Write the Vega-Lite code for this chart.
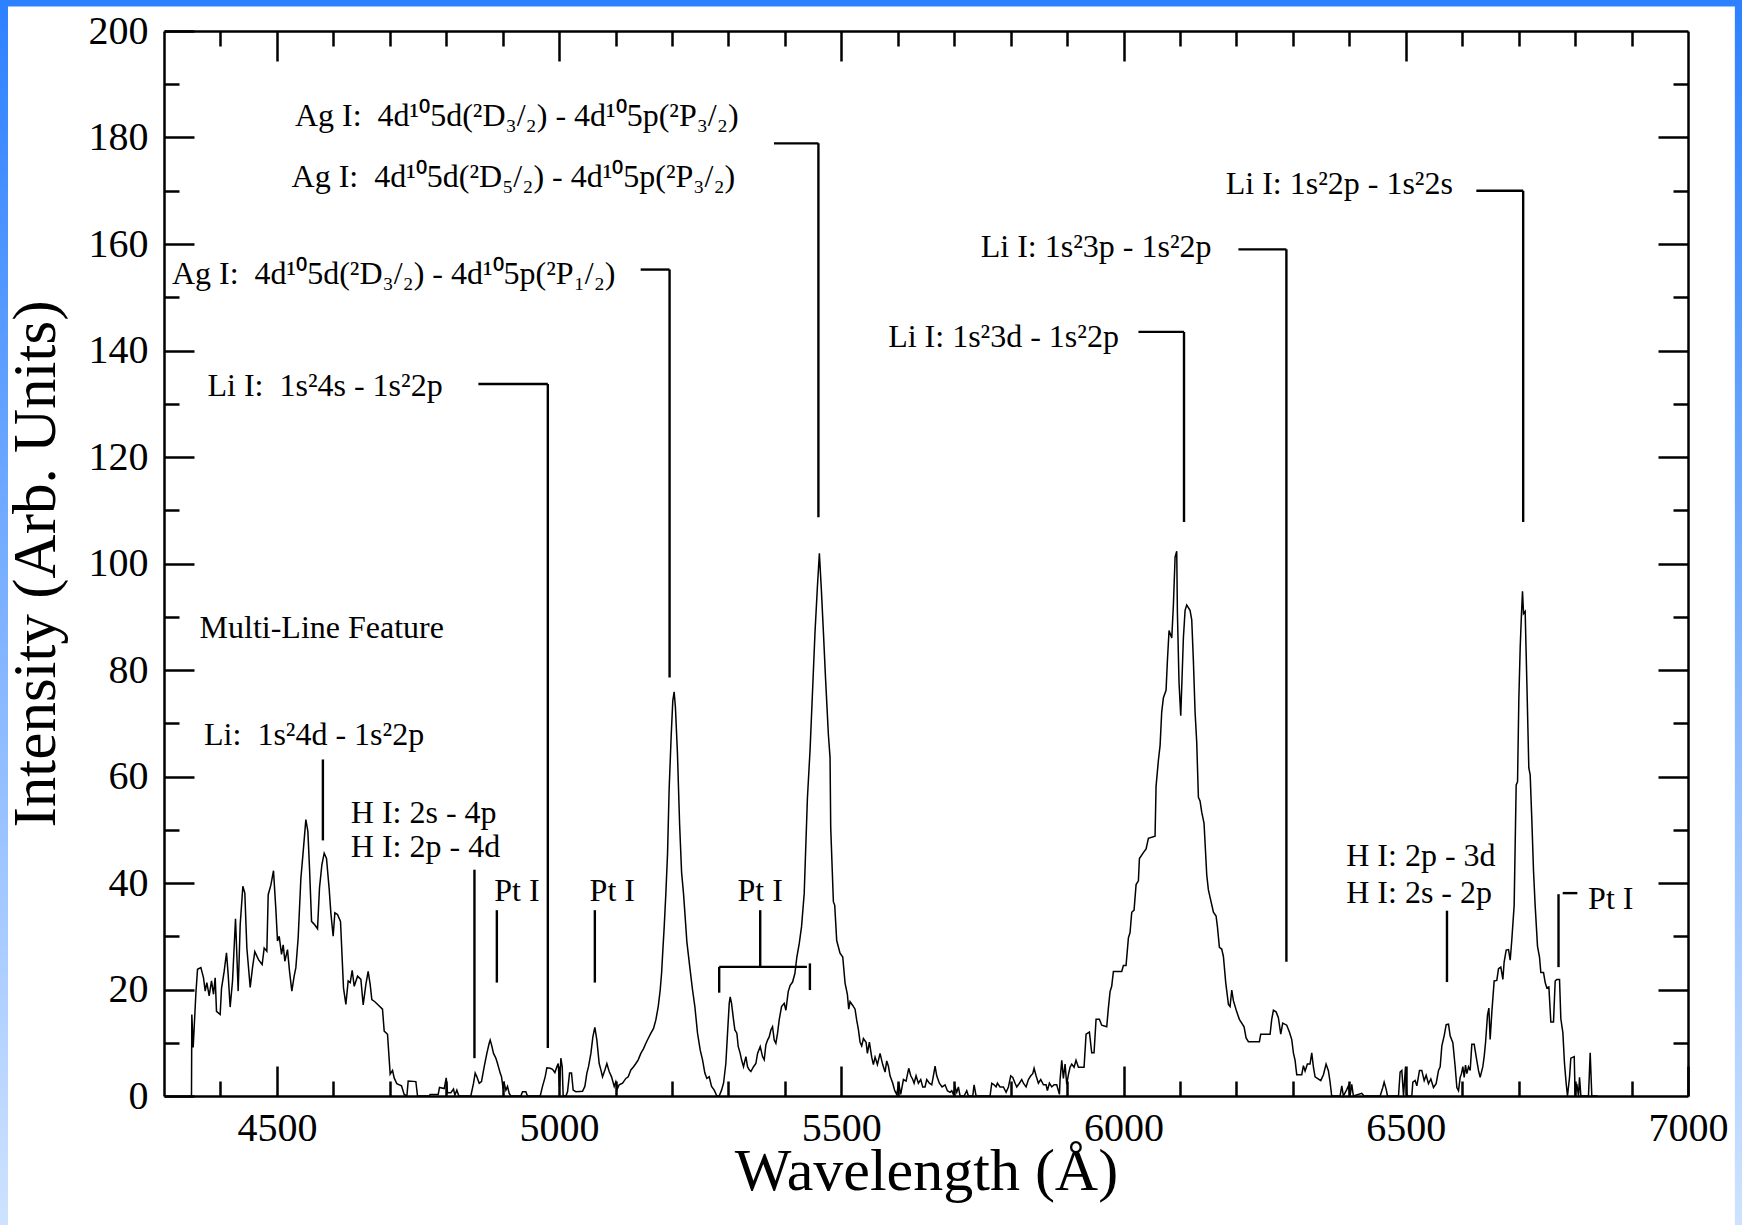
{
  "$schema": "https://vega.github.io/schema/vega-lite/v6.json",
  "width": 1524,
  "height": 1065,
  "autosize": {"type": "none"},
  "padding": {"left": 164, "top": 31, "right": 54, "bottom": 129},
  "background": "white",
  "config": {
    "view": {"stroke": null},
    "font": "Liberation Serif"
  },
  "datasets": {
    "spectrum": [
      {"w":4348.7,"i":0},{"w":4349.3,"i":15.3},{"w":4351.7,"i":9.1},{"w":4356.4,"i":19.1},{"w":4359.4,"i":23.8},{"w":4365.3,"i":24.1},{"w":4370,"i":22.2},{"w":4373,"i":19.7},{"w":4375.9,"i":21.3},{"w":4380,"i":18.8},{"w":4384.2,"i":21.6},{"w":4387.7,"i":19.1},{"w":4390.7,"i":22.2},{"w":4393,"i":15.9},{"w":4399.5,"i":15.3},{"w":4401.9,"i":20.2},{"w":4406.6,"i":23.4},{"w":4410.7,"i":26.9},{"w":4413.7,"i":22.8},{"w":4417.2,"i":16.7},{"w":4421.4,"i":21.6},{"w":4426.7,"i":33.3},{"w":4431.4,"i":19.7},{"w":4435,"i":32.2},{"w":4439.7,"i":39.4},{"w":4443.2,"i":38.1},{"w":4446.8,"i":27.8},{"w":4452.7,"i":20.4},{"w":4456.8,"i":24.1},{"w":4460.9,"i":27.1},{"w":4467.4,"i":25.6},{"w":4473.9,"i":24.7},{"w":4477.5,"i":27.8},{"w":4482.2,"i":27.2},{"w":4484.6,"i":37.8},{"w":4489.3,"i":39.6},{"w":4494,"i":42.3},{"w":4498.2,"i":35},{"w":4501.1,"i":29.1},{"w":4504.1,"i":30},{"w":4508.2,"i":26.6},{"w":4511.2,"i":28.4},{"w":4514.1,"i":25.3},{"w":4518.8,"i":27.5},{"w":4522.4,"i":23.4},{"w":4526.5,"i":19.7},{"w":4530.6,"i":22.5},{"w":4533.6,"i":24.1},{"w":4537.7,"i":29.7},{"w":4542.5,"i":40.9},{"w":4546.6,"i":45.9},{"w":4551.3,"i":51.9},{"w":4554.9,"i":49.7},{"w":4557.8,"i":42.8},{"w":4561.4,"i":32.8},{"w":4567.3,"i":32.1},{"w":4572,"i":31.4},{"w":4575.5,"i":39.1},{"w":4579.7,"i":43.4},{"w":4583.8,"i":45.6},{"w":4587.9,"i":44.6},{"w":4592.7,"i":38.8},{"w":4595.6,"i":34.4},{"w":4599.7,"i":30},{"w":4602.7,"i":34.4},{"w":4607.4,"i":34.1},{"w":4612.7,"i":32.8},{"w":4618,"i":20.3},{"w":4622.2,"i":17.2},{"w":4626.3,"i":21.6},{"w":4629.9,"i":21.3},{"w":4633.4,"i":23.6},{"w":4637,"i":20.6},{"w":4642.9,"i":22.5},{"w":4648.8,"i":21.9},{"w":4652.9,"i":17.1},{"w":4657.6,"i":20.9},{"w":4661.7,"i":23.4},{"w":4665.3,"i":20.9},{"w":4668.2,"i":18.1},{"w":4673.6,"i":17.7},{"w":4679.5,"i":17.1},{"w":4687.1,"i":16.3},{"w":4690.1,"i":12.2},{"w":4696,"i":11.6},{"w":4700.7,"i":4.1},{"w":4704.9,"i":4.8},{"w":4707.8,"i":3.4},{"w":4712.5,"i":2.3},{"w":4720.8,"i":1.9},{"w":4725.5,"i":0.3},{"w":4730.3,"i":0},{"w":4732.6,"i":2.8},{"w":4746.2,"i":2.7},{"w":4749.2,"i":0},{"w":4769.8,"i":0},{"w":4771.6,"i":0.3},{"w":4785.8,"i":0.3},{"w":4788.1,"i":1.6},{"w":4796.4,"i":1.4},{"w":4800,"i":3.4},{"w":4802.3,"i":0.6},{"w":4808.2,"i":0.6},
      {"w":4812.9,"i":1.3},{"w":4815.3,"i":0.2},{"w":4818.8,"i":1.1},{"w":4822.4,"i":0},{"w":4843.6,"i":0},{"w":4848.4,"i":2.4},{"w":4851.3,"i":4.3},{"w":4854.3,"i":3.6},{"w":4858.4,"i":2.4},{"w":4862.5,"i":2.7},{"w":4867.3,"i":5.5},{"w":4872,"i":8},{"w":4876.1,"i":9.9},{"w":4877.9,"i":10.5},{"w":4880.3,"i":9.6},{"w":4883.8,"i":8},{"w":4888,"i":7.1},{"w":4890.9,"i":6.1},{"w":4895.6,"i":4.3},{"w":4898,"i":3.6},{"w":4900.3,"i":1.8},{"w":4902.7,"i":2.4},{"w":4905.7,"i":1.1},{"w":4908.6,"i":1.8},{"w":4911.6,"i":0.5},{"w":4914.5,"i":0},{"w":4932.2,"i":0},{"w":4935.2,"i":0.8},{"w":4941.1,"i":0.8},{"w":4944,"i":0},{"w":4966.5,"i":0},{"w":4970.6,"i":1.8},{"w":4975.3,"i":3.6},{"w":4978.3,"i":5.3},{"w":4984.2,"i":5.2},{"w":4988.3,"i":5},{"w":4992.5,"i":4.4},{"w":4996,"i":5.5},{"w":4998.4,"i":6.1},{"w":5000.7,"i":1.8},{"w":5003.1,"i":7.1},{"w":5005.5,"i":5.5},{"w":5007.2,"i":0},{"w":5012,"i":0},{"w":5014.9,"i":0.8},{"w":5018.5,"i":4.3},{"w":5022,"i":4.3},{"w":5024.9,"i":1.1},{"w":5029.7,"i":0.8},{"w":5041.5,"i":0.9},{"w":5045.6,"i":1.8},{"w":5049.2,"i":4.3},{"w":5052.1,"i":5.5},{"w":5056.3,"i":8},{"w":5059.8,"i":11.1},{"w":5063.3,"i":12.9},{"w":5066.9,"i":10.5},{"w":5071,"i":6.1},{"w":5074,"i":4.9},{"w":5076.9,"i":3.6},{"w":5081.1,"i":4.9},{"w":5084.6,"i":6.1},{"w":5088.7,"i":4.6},{"w":5092.9,"i":3.6},{"w":5097.6,"i":1.8},{"w":5100.5,"i":2.7},{"w":5103.5,"i":1.4},{"w":5106.4,"i":2.1},{"w":5112.4,"i":2.4},{"w":5118.3,"i":3.3},{"w":5122.4,"i":3.6},{"w":5127.1,"i":4.9},{"w":5131.9,"i":5.5},{"w":5136,"i":6.1},{"w":5140.1,"i":6.8},{"w":5144.8,"i":8},{"w":5149.6,"i":8.9},{"w":5153.7,"i":9.9},{"w":5157.8,"i":10.8},{"w":5162.6,"i":11.8},{"w":5167.3,"i":12.7},{"w":5171.4,"i":14.3},{"w":5175.6,"i":16.8},{"w":5179.1,"i":19.9},{"w":5181.5,"i":23},{"w":5183.8,"i":27.4},{"w":5186.2,"i":31.8},{"w":5189.1,"i":38},{"w":5192.1,"i":45.5},{"w":5194.9,"i":57.5},{"w":5198.5,"i":67.5},{"w":5201.4,"i":74.2},{"w":5203.8,"i":75.9},{"w":5206.1,"i":72.9},{"w":5209.7,"i":64.2},{"w":5213.5,"i":51},{"w":5217,"i":42},{"w":5220.4,"i":38},{"w":5223.4,"i":33.5},{"w":5226.3,"i":29},{"w":5228.7,"i":26.8},{"w":5232.2,"i":23.6},{"w":5236.4,"i":19.9},{"w":5240.5,"i":16.8},{"w":5245.2,"i":11.8},{"w":5250,"i":8.6},{"w":5254.1,"i":6.8},{"w":5258.2,"i":4.3},{"w":5261.8,"i":3.3},{"w":5265.9,"i":3.6},{"w":5270.1,"i":1.8},{"w":5274.8,"i":1.1},{"w":5279.5,"i":0},{"w":5283.6,"i":0},{"w":5287.8,"i":1.1},{"w":5291.3,"i":2.4},{"w":5295.4,"i":6.1},{"w":5298.4,"i":11.8},{"w":5301.4,"i":17.4},{"w":5303.1,"i":18.6},{"w":5305.5,"i":17.4},{"w":5309,"i":14.3},{"w":5311.4,"i":12.4},{"w":5314.9,"i":11.8},{"w":5317.3,"i":9.3},{"w":5320.8,"i":8},{"w":5323.2,"i":6.8},{"w":5326.7,"i":5.5},{"w":5330.9,"i":7.4},{"w":5333.8,"i":5.5},{"w":5336.8,"i":4.9},{"w":5339.7,"i":4.6},{"w":5344.5,"i":5.5},{"w":5348.6,"i":6.1},{"w":5351.6,"i":8},{"w":5356.3,"i":9.3},{"w":5360.4,"i":7.4},{"w":5363.4,"i":6.8},{"w":5366.3,"i":9.6},{"w":5369.3,"i":10.5},{"w":5372.2,"i":11.1},{"w":5375.2,"i":12.4},{"w":5378.1,"i":13},{"w":5381.1,"i":10.5},{"w":5384,"i":9.9},{"w":5387,"i":11.8},{"w":5389.9,"i":14.3},{"w":5394.1,"i":16.8},{"w":5398.8,"i":17.4},{"w":5401.8,"i":16.1},{"w":5405.9,"i":19.6},{"w":5409.4,"i":20.8},{"w":5413.6,"i":21.4},{"w":5417.7,"i":23},{"w":5421.2,"i":26.1},{"w":5425.4,"i":28.6},{"w":5429.5,"i":31.8},{"w":5434.2,"i":38},{"w":5439.9,"i":55.9},{"w":5444.6,"i":65},{"w":5449.3,"i":76.8},{"w":5453.4,"i":87.2},{"w":5457.6,"i":95.6},{"w":5461.1,"i":101.9},{"w":5464.7,"i":94.9},{"w":5468.2,"i":87.2},{"w":5471.8,"i":78.9},{"w":5477.1,"i":67.8},{"w":5480,"i":63.6},{"w":5481.2,"i":50.4},{"w":5485.9,"i":36.5},{"w":5488.3,"i":35.8},{"w":5491.8,"i":29.2},{"w":5497.7,"i":26.8},{"w":5502.5,"i":26.1},{"w":5506.6,"i":21.2},{"w":5510.7,"i":19.1},{"w":5513.1,"i":16.3},{"w":5515.5,"i":17.7},{"w":5520.2,"i":17},{"w":5524.3,"i":16.3},{"w":5527.3,"i":14.2},{"w":5530.2,"i":12.5},{"w":5533.2,"i":10.1},{"w":5536.1,"i":9.4},{"w":5539.1,"i":10.8},{"w":5543.8,"i":10.1},{"w":5546.2,"i":8},{"w":5549.7,"i":10.1},{"w":5553.8,"i":7.3},{"w":5556.8,"i":5.9},{"w":5559.8,"i":7.3},{"w":5563.9,"i":5.9},{"w":5568.6,"i":8},{"w":5573.3,"i":5.9},{"w":5577.5,"i":4.5},{"w":5580.4,"i":6.6},{"w":5583.4,"i":5.6},{"w":5586.3,"i":3.8},{"w":5591.1,"i":2.4},{"w":5594.6,"i":1},{"w":5598.1,"i":0.3},{"w":5601.7,"i":2.4},{"w":5605.2,"i":0.3},{"w":5610,"i":3.1},{"w":5614.7,"i":2.8},{"w":5619.4,"i":5.2},{"w":5623,"i":3.8},{"w":5626.5,"i":3.1},{"w":5628.9,"i":2.4},{"w":5632.4,"i":3.8},{"w":5636.5,"i":2.4},{"w":5640.7,"i":3.1},{"w":5644.2,"i":1.7},{"w":5648.3,"i":1.7},{"w":5651.3,"i":3.1},{"w":5656,"i":2.4},{"w":5660.2,"i":2.1},{"w":5663.1,"i":3.8},{"w":5666.1,"i":5.6},{"w":5669,"i":3.8},{"w":5673.7,"i":2.4},{"w":5678.5,"i":1.7},{"w":5683.8,"i":2.1},{"w":5687.9,"i":1},{"w":5692.6,"i":0.7},{"w":5695.6,"i":1},{"w":5698.5,"i":0.3},{"w":5701.5,"i":1.7},{"w":5704.5,"i":0.7},{"w":5707.4,"i":1.7},{"w":5710.4,"i":0},{"w":5717.4,"i":0},{"w":5722.2,"i":1},{"w":5725.1,"i":0},{"w":5732.8,"i":0},{"w":5735.2,"i":2.1},{"w":5738.7,"i":0},{"w":5763.5,"i":0},{"w":5766.5,"i":2.4},{"w":5770.6,"i":2.1},{"w":5774.1,"i":1.7},{"w":5776.5,"i":2.4},{"w":5781.2,"i":1.7},{"w":5787.1,"i":1.7},{"w":5791.9,"i":0.7},{"w":5796,"i":1.7},{"w":5800.1,"i":3.8},{"w":5803.7,"i":3.5},{"w":5807.8,"i":2.4},{"w":5810.8,"i":1.7},{"w":5815.5,"i":2.4},{"w":5819.6,"i":3.1},{"w":5822.6,"i":2.4},{"w":5827.3,"i":1.7},{"w":5831.4,"i":3.1},{"w":5835.6,"i":3.8},{"w":5839.1,"i":4.2},{"w":5841.5,"i":5.2},{"w":5845,"i":3.8},{"w":5849.1,"i":2.4},{"w":5853.3,"i":3.1},{"w":5858,"i":2.1},{"w":5862.7,"i":2.1},{"w":5865.1,"i":1},{"w":5868.6,"i":2.4},{"w":5872.8,"i":1.7},{"w":5876.9,"i":2.1},{"w":5881.6,"i":2.1},{"w":5886.4,"i":0.3},
      {"w":5887.5,"i":3},{"w":5890.5,"i":6.7},{"w":5893.4,"i":3.3},{"w":5896.4,"i":6},{"w":5899.3,"i":2.2},{"w":5902.3,"i":4},{"w":5905.2,"i":5.4},{"w":5908.2,"i":6},{"w":5912.3,"i":5.4},{"w":5915.8,"i":6.7},{"w":5920,"i":5.4},{"w":5930,"i":5.4},{"w":5933.6,"i":11.6},{"w":5939.5,"i":12},{"w":5943.6,"i":8.1},{"w":5947.7,"i":8.1},{"w":5951.3,"i":14.4},{"w":5957.2,"i":14.4},{"w":5961.3,"i":13.3},{"w":5970.2,"i":13},{"w":5973.1,"i":16.5},{"w":5976.1,"i":19.6},{"w":5979,"i":20.6},{"w":5982,"i":23.4},{"w":5996.8,"i":23.4},{"w":5999.7,"i":24.5},{"w":6004.4,"i":24.5},{"w":6008.6,"i":29.7},{"w":6011.5,"i":30.7},{"w":6014.5,"i":34.5},{"w":6018.6,"i":34.9},{"w":6022.2,"i":39.7},{"w":6026.3,"i":40.4},{"w":6028.1,"i":44.6},{"w":6035.1,"i":45.7},{"w":6039.9,"i":46.4},{"w":6044,"i":48.4},{"w":6055.8,"i":48.8},{"w":6057.6,"i":58.2},{"w":6061.7,"i":63},{"w":6064.7,"i":65.8},{"w":6067.6,"i":72.1},{"w":6070.6,"i":74.8},{"w":6075.3,"i":76.2},{"w":6077.7,"i":81.8},{"w":6080.6,"i":87.4},{"w":6085.4,"i":86},{"w":6088.3,"i":92.2},{"w":6091.3,"i":101.2},{"w":6094.2,"i":102.3},{"w":6095.4,"i":90.8},{"w":6098.3,"i":77.6},{"w":6101.3,"i":71.4},{"w":6103.1,"i":76.9},{"w":6106,"i":86},{"w":6109,"i":91.2},{"w":6111.9,"i":92.2},{"w":6117.8,"i":91.2},{"w":6120.8,"i":89.4},{"w":6123.7,"i":81.8},{"w":6126.7,"i":72.1},{"w":6129.6,"i":66.5},{"w":6132.6,"i":56.1},{"w":6135.5,"i":55.4},{"w":6138.5,"i":53.3},{"w":6142.6,"i":51.2},{"w":6147.4,"i":41.5},{"w":6150.3,"i":38.7},{"w":6153.3,"i":37.3},{"w":6159.2,"i":34.5},{"w":6163.9,"i":33.8},{"w":6166.3,"i":31.8},{"w":6169.8,"i":27.9},{"w":6173.9,"i":27.6},{"w":6176.9,"i":26.2},{"w":6181,"i":21.3},{"w":6185.8,"i":17.2},{"w":6188.7,"i":16.8},{"w":6191.7,"i":19.9},{"w":6194.6,"i":17.9},{"w":6200.5,"i":15.8},{"w":6205.2,"i":14.4},{"w":6213.5,"i":13},{"w":6217.1,"i":10.9},{"w":6221.2,"i":10.2},{"w":6240.7,"i":10.2},{"w":6243,"i":11.6},{"w":6259.6,"i":11.6},{"w":6262.5,"i":14.4},{"w":6265.5,"i":16.1},{"w":6270.2,"i":15.8},{"w":6274.3,"i":14.7},{"w":6278.5,"i":11.6},{"w":6282,"i":13.7},{"w":6289.1,"i":13.3},{"w":6293.8,"i":12},{"w":6298,"i":10.6},{"w":6300.9,"i":8.1},{"w":6303.9,"i":6.7},{"w":6306.8,"i":4},{"w":6315.7,"i":4},{"w":6318.6,"i":5.7},{"w":6321.6,"i":4.7},{"w":6325.7,"i":6},{"w":6330.4,"i":6},{"w":6333.4,"i":8.1},{"w":6336.4,"i":5.4},{"w":6339.3,"i":3.6},{"w":6349.4,"i":2.9},{"w":6354.1,"i":4},{"w":6358.8,"i":6},{"w":6363,"i":4.7},{"w":6365.9,"i":2.6},{"w":6368.8,"i":0},{"w":6383.6,"i":0},{"w":6386.6,"i":1.9},{"w":6389.5,"i":0},{"w":6395.4,"i":1.2},{"w":6398.4,"i":1.9},{"w":6401.3,"i":0},{"w":6404.3,"i":2.2},{"w":6407.2,"i":0},{"w":6422,"i":0.5},{"w":6426.1,"i":0},
      {"w":6454.6,"i":0},{"w":6459.3,"i":1.6},{"w":6461.7,"i":2.6},{"w":6465.2,"i":1.3},{"w":6467.6,"i":0},{"w":6487.1,"i":0},{"w":6490,"i":4.5},{"w":6493,"i":4.8},{"w":6496,"i":0},{"w":6499.5,"i":5.5},{"w":6501.9,"i":0},{"w":6510.7,"i":0},{"w":6512.5,"i":2.6},{"w":6516.6,"i":2.9},{"w":6519.6,"i":1.9},{"w":6524.3,"i":4.8},{"w":6528.4,"i":4.8},{"w":6532.6,"i":2.9},{"w":6536.1,"i":3.9},{"w":6540.2,"i":2.3},{"w":6544.4,"i":3.2},{"w":6549.1,"i":1.6},{"w":6553.8,"i":2.3},{"w":6558,"i":4.8},{"w":6560.9,"i":5.5},{"w":6563.9,"i":9.4},{"w":6568,"i":11.3},{"w":6571.6,"i":13.4},{"w":6575.7,"i":13.5},{"w":6578.6,"i":11.3},{"w":6583.4,"i":10},{"w":6587.5,"i":5.5},{"w":6590.5,"i":1.6},{"w":6593.4,"i":1},{"w":6596.4,"i":3.5},{"w":6598.7,"i":4.2},{"w":6601.1,"i":5.5},{"w":6603.5,"i":3.5},{"w":6605.8,"i":5.8},{"w":6608.2,"i":4.2},{"w":6611.1,"i":5.5},{"w":6614.1,"i":4.8},{"w":6617,"i":9.7},{"w":6621.2,"i":9.7},{"w":6624.7,"i":7.4},{"w":6628.8,"i":4.8},{"w":6631.8,"i":3.5},{"w":6636.5,"i":5.5},{"w":6638.9,"i":7.4},{"w":6641.3,"i":10},{"w":6644.8,"i":15.2},{"w":6647.2,"i":16.5},{"w":6649.5,"i":10.6},{"w":6652.5,"i":15.8},{"w":6656.6,"i":21.6},{"w":6661.3,"i":21.7},{"w":6664.3,"i":23.9},{"w":6668.4,"i":24.2},{"w":6672,"i":21.9},{"w":6674.3,"i":25.2},{"w":6677.9,"i":27.4},{"w":6682,"i":27.5},{"w":6685,"i":25.5},{"w":6687.9,"i":29.4},{"w":6692,"i":35.8},{"w":6695.6,"i":58.4},{"w":6698,"i":59},{"w":6700.3,"i":74.5},{"w":6702.7,"i":84.2},{"w":6705,"i":90.6},{"w":6706.8,"i":94.8},{"w":6708.6,"i":90.6},{"w":6711.5,"i":91},{"w":6714.5,"i":77.7},{"w":6718,"i":61.6},{"w":6720.4,"i":60.3},{"w":6723.3,"i":51.9},{"w":6726.3,"i":42.3},{"w":6729.2,"i":35.8},{"w":6733.4,"i":28.1},{"w":6736.9,"i":26.1},{"w":6739.3,"i":23.2},{"w":6744,"i":23.2},{"w":6747,"i":21.3},{"w":6749.9,"i":20.3},{"w":6753.5,"i":20.5},{"w":6757,"i":13.9},{"w":6761.7,"i":13.9},{"w":6764.7,"i":21.6},{"w":6767.6,"i":21.9},{"w":6772.4,"i":21.9},{"w":6774.7,"i":14.5},{"w":6778.3,"i":11.9},{"w":6781.2,"i":6.1},{"w":6784.2,"i":2.3},{"w":6786.5,"i":0},{"w":6790.1,"i":3.5},{"w":6792.4,"i":7.1},{"w":6798.4,"i":7.4},{"w":6800.1,"i":0},{"w":6803,"i":2.3},{"w":6806,"i":0},{"w":6807.8,"i":3.5},{"w":6810.2,"i":0},{"w":6823.7,"i":0},{"w":6826.7,"i":8.1},{"w":6829.6,"i":0},{"w":6840,"i":0}
    ],
    "segments": [
      {"x1":5380.7,"x2":5459.4,"y1":178.9,"y2":178.9},
      {"x1":5459.4,"x2":5459.4,"y1":178.9,"y2":108.7},
      {"x1":5144.5,"x2":5195.7,"y1":155.2,"y2":155.2},
      {"x1":5195.7,"x2":5195.7,"y1":155.2,"y2":78.6},
      {"x1":4857,"x2":4980,"y1":133.7,"y2":133.7},
      {"x1":4980,"x2":4980,"y1":133.7,"y2":9},
      {"x1":4581.5,"x2":4581.5,"y1":63.2,"y2":48},
      {"x1":4850,"x2":4850,"y1":42.5,"y2":7.1},
      {"x1":4889.7,"x2":4889.7,"y1":34.9,"y2":21.3},
      {"x1":5063.3,"x2":5063.3,"y1":34.9,"y2":21.3},
      {"x1":5356.3,"x2":5356.3,"y1":34.9,"y2":24.25},
      {"x1":5283.6,"x2":5439,"y1":24.25,"y2":24.25},
      {"x1":5283.6,"x2":5283.6,"y1":24.25,"y2":19.4},
      {"x1":5444.3,"x2":5444.3,"y1":24.9,"y2":19.9},
      {"x1":6026.4,"x2":6107.1,"y1":143.5,"y2":143.5},
      {"x1":6107.1,"x2":6107.1,"y1":143.5,"y2":107.8},
      {"x1":6203.5,"x2":6288.5,"y1":159,"y2":159},
      {"x1":6288.5,"x2":6288.5,"y1":159,"y2":25.2},
      {"x1":6625,"x2":6708,"y1":170,"y2":170},
      {"x1":6708,"x2":6708,"y1":170,"y2":107.8},
      {"x1":6573,"x2":6573,"y1":34.8,"y2":21.4},
      {"x1":6770.6,"x2":6770.6,"y1":37.9,"y2":24.2},
      {"x1":6778,"x2":6804,"y1":38.1,"y2":38.1}
    ],
    "labels": [
      {"x":4532,"y":184,"t":"Ag I:\u00a0 4d¹⁰5d(²D₃/₂) - 4d¹⁰5p(²P₃/₂)"},
      {"x":4526,"y":172.5,"t":"Ag I:\u00a0 4d¹⁰5d(²D₅/₂) - 4d¹⁰5p(²P₃/₂)"},
      {"x":4314,"y":154.3,"t":"Ag I:\u00a0 4d¹⁰5d(²D₃/₂) - 4d¹⁰5p(²P₁/₂)"},
      {"x":4377,"y":133.3,"t":"Li I:\u00a0 1s²4s - 1s²2p"},
      {"x":4363,"y":87.8,"t":"Multi-Line Feature"},
      {"x":4371,"y":67.7,"t":"Li:\u00a0 1s²4d - 1s²2p"},
      {"x":4631,"y":53.2,"t":"H I: 2s - 4p"},
      {"x":4631,"y":46.7,"t":"H I: 2p - 4d"},
      {"x":4885,"y":38.5,"t":"Pt I"},
      {"x":5054,"y":38.5,"t":"Pt I"},
      {"x":5316,"y":38.5,"t":"Pt I"},
      {"x":5583,"y":142.6,"t":"Li I: 1s²3d - 1s²2p"},
      {"x":5747,"y":159.5,"t":"Li I: 1s²3p - 1s²2p"},
      {"x":6181,"y":171.2,"t":"Li I: 1s²2p - 1s²2s"},
      {"x":6394.5,"y":45,"t":"H I: 2p - 3d"},
      {"x":6394.5,"y":38.2,"t":"H I: 2s - 2p"},
      {"x":6823,"y":37,"t":"Pt I"}
    ]
  },
  "resolve": {"axis": {"x": "independent", "y": "independent"}},
  "layer": [
    {
      "data": {"values": [{}]},
      "mark": {"type": "rect", "fill": {"gradient": "linear", "x1": 0, "y1": 0, "x2": 0, "y2": 1, "stops": [{"offset": 0, "color": "#2a7fff"}, {"offset": 1, "color": "#d2e5ff"}]}},
      "encoding": {
        "x": {"datum": 3990, "type": "quantitative", "scale": {"domain": [4300, 7000], "nice": false, "zero": false}, "axis": null},
        "x2": {"datum": 7110},
        "y": {"datum": -30, "type": "quantitative", "scale": {"domain": [0, 200], "nice": false, "zero": false}, "axis": null},
        "y2": {"datum": 210}
      }
    },
    {
      "data": {"values": [{}]},
      "mark": {"type": "rect", "fill": "white"},
      "encoding": {
        "x": {"datum": 4023.6, "type": "quantitative", "scale": {"domain": [4300, 7000], "nice": false, "zero": false}, "axis": null},
        "x2": {"datum": 7083},
        "y": {"datum": -30, "type": "quantitative", "scale": {"domain": [0, 200], "nice": false, "zero": false}, "axis": null},
        "y2": {"datum": 204.6}
      }
    },
    {
      "data": {"name": "spectrum"},
      "mark": {"type": "line", "color": "black", "strokeWidth": 1.5},
      "encoding": {
        "x": {
          "field": "w", "type": "quantitative",
          "scale": {"domain": [4300, 7000], "nice": false, "zero": false},
          "axis": {
            "orient": "bottom", "zindex": 2,
            "values": [4400,4500,4600,4700,4800,4900,5000,5100,5200,5300,5400,5500,5600,5700,5800,5900,6000,6100,6200,6300,6400,6500,6600,6700,6800,6900,7000],
            "format": "d",
            "labelExpr": "datum.value % 500 === 0 ? datum.label : ''",
            "tickSize": {"condition": {"test": "datum.value % 500 === 0", "value": -30}, "value": -15},
            "tickWidth": 2.5, "tickColor": "black",
            "domainColor": "black", "domainWidth": 2.5,
            "grid": false,
            "labelFont": "Liberation Serif", "labelFontSize": 40, "labelColor": "black",
            "labelPadding": 42, "labelFlush": false, "labelOverlap": false,
            "title": "Wavelength (Å)", "titleFont": "Liberation Serif", "titleFontSize": 60,
            "titleFontWeight": "normal", "titleColor": "black", "titlePadding": -21
          }
        },
        "y": {
          "field": "i", "type": "quantitative",
          "scale": {"domain": [0, 200], "nice": false, "zero": false},
          "axis": {
            "orient": "left", "zindex": 2,
            "values": [0,10,20,30,40,50,60,70,80,90,100,110,120,130,140,150,160,170,180,190,200],
            "labelExpr": "datum.value % 20 === 0 ? datum.label : ''",
            "tickSize": {"condition": {"test": "datum.value % 20 === 0", "value": -30}, "value": -15},
            "tickWidth": 2.5, "tickColor": "black",
            "domainColor": "black", "domainWidth": 2.5,
            "grid": false,
            "labelFont": "Liberation Serif", "labelFontSize": 40, "labelColor": "black",
            "labelPadding": 46, "labelFlush": false, "labelOverlap": false,
            "title": "Intensity (Arb. Units)", "titleFont": "Liberation Serif", "titleFontSize": 61,
            "titleFontWeight": "normal", "titleColor": "black", "titlePadding": 21
          }
        }
      }
    },
    {
      "data": {"name": "segments"},
      "mark": {"type": "rule", "color": "black", "strokeWidth": 2.4},
      "encoding": {
        "x": {
          "field": "x1", "type": "quantitative",
          "scale": {"domain": [4300, 7000], "nice": false, "zero": false},
          "axis": {
            "orient": "top", "zindex": 2,
            "values": [4400,4500,4600,4700,4800,4900,5000,5100,5200,5300,5400,5500,5600,5700,5800,5900,6000,6100,6200,6300,6400,6500,6600,6700,6800,6900],
            "labels": false,
            "tickSize": {"condition": {"test": "datum.value % 500 === 0", "value": -30}, "value": -15},
            "tickWidth": 2.5, "tickColor": "black",
            "domainColor": "black", "domainWidth": 2.5,
            "grid": false, "title": null
          }
        },
        "x2": {"field": "x2"},
        "y": {
          "field": "y1", "type": "quantitative",
          "scale": {"domain": [0, 200], "nice": false, "zero": false},
          "axis": {
            "orient": "right", "zindex": 2,
            "values": [10,20,30,40,50,60,70,80,90,100,110,120,130,140,150,160,170,180,190],
            "labels": false,
            "tickSize": {"condition": {"test": "datum.value % 20 === 0", "value": -30}, "value": -15},
            "tickWidth": 2.5, "tickColor": "black",
            "domainColor": "black", "domainWidth": 2.5,
            "grid": false, "title": null
          }
        },
        "y2": {"field": "y2"}
      }
    },
    {
      "data": {"name": "labels"},
      "mark": {"type": "text", "align": "left", "baseline": "middle", "font": "Liberation Serif", "fontSize": 32, "color": "black"},
      "encoding": {
        "x": {"field": "x", "type": "quantitative", "scale": {"domain": [4300, 7000], "nice": false, "zero": false}, "axis": null},
        "y": {"field": "y", "type": "quantitative", "scale": {"domain": [0, 200], "nice": false, "zero": false}, "axis": null},
        "text": {"field": "t"}
      }
    }
  ]
}
